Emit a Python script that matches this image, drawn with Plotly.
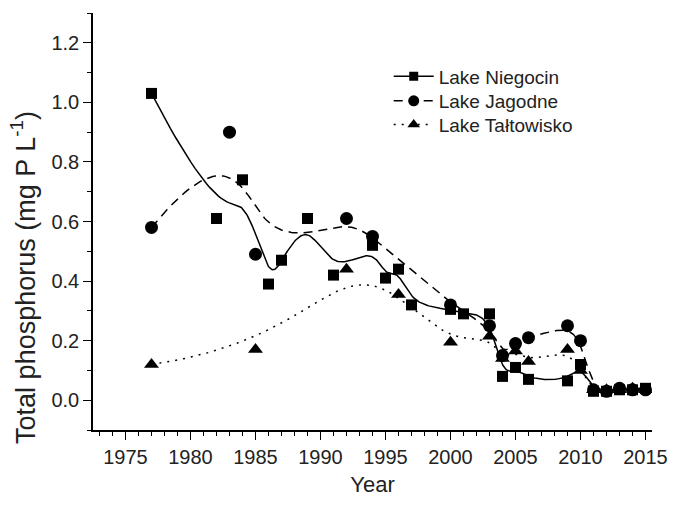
import numpy as np
import plotly.graph_objects as go

# ---- data ----
nieg_years = [1977, 1982, 1984, 1986, 1987, 1989, 1991, 1994, 1995, 1996, 1997, 2000, 2001, 2003,
              2004, 2005, 2006, 2009, 2010, 2011, 2012, 2013, 2014, 2015]
nieg_tp = [1.03, 0.61, 0.74, 0.39, 0.47, 0.61, 0.42, 0.52, 0.41, 0.44, 0.32, 0.305, 0.29, 0.29,
           0.08, 0.11, 0.07, 0.065, 0.12, 0.03, 0.03, 0.035, 0.035, 0.04]

jag_years = [1977, 1983, 1985, 1992, 1994, 2000, 2003, 2004, 2005, 2006, 2009, 2010,
             2011, 2012, 2013, 2014, 2015]
jag_tp = [0.58, 0.90, 0.49, 0.61, 0.55, 0.32, 0.25, 0.15, 0.19, 0.21, 0.25, 0.20,
          0.035, 0.03, 0.04, 0.035, 0.035]

talt_years = [1977, 1985, 1992, 1996, 2000, 2003, 2004, 2005, 2006, 2009, 2010,
              2011, 2012, 2013, 2014, 2015]
talt_tp = [0.12, 0.17, 0.44, 0.355, 0.195, 0.215, 0.14, 0.165, 0.13, 0.17, 0.10,
           0.035, 0.035, 0.035, 0.04, 0.035]

series_names = ["Lake Niegocin", "Lake Jagodne", "Lake Tałtowisko"]
x_ticks = [1975, 1980, 1985, 1990, 1995, 2000, 2005, 2010, 2015]
y_title = "Total phosphorus (mg P L<sup>-1</sup>)"
x_title = "Year"


def bspline(xs, ys, n=600, k=3):
    """Clamped uniform B-spline using the data as control points (Origin 'B-Spline' connect)."""
    P = np.column_stack([xs, ys]).astype(float)
    m = len(P)
    knots = np.concatenate([np.zeros(k), np.arange(0, m - k + 1), np.full(k, m - k)]).astype(float)
    ts = np.linspace(0, m - k, n)
    out = []
    for t in ts:
        s = np.searchsorted(knots, t, side="right") - 1
        s = min(max(s, k), m - 1)
        d = [P[j + s - k].copy() for j in range(k + 1)]
        for r in range(1, k + 1):
            for j in range(k, r - 1, -1):
                den = knots[j + 1 + s - r] - knots[j + s - k]
                a = 0.0 if den == 0 else (t - knots[j + s - k]) / den
                d[j] = (1 - a) * d[j - 1] + a * d[j]
        out.append(d[k])
    out = np.array(out)
    return out[:, 0], out[:, 1]


FONT = "Liberation Sans, Arial, sans-serif"
fig = go.Figure()

specs = [
    (nieg_years, nieg_tp, "solid", "square", 11, "legend"),
    (jag_years, jag_tp, "9px,6px", "circle", 13, "legend2"),
    (talt_years, talt_tp, "2px,6px", "triangle-up", 13, "legend3"),
]

for (xs, ys, dash, sym, ms, lg), name in zip(specs, series_names):
    cx, cy = bspline(xs, ys)
    fig.add_trace(go.Scatter(x=cx, y=cy, mode="lines", showlegend=False,
                             line=dict(color="black", width=1.5, dash=dash), hoverinfo="skip"))
    fig.add_trace(go.Scatter(x=xs, y=ys, mode="markers", showlegend=False,
                             marker=dict(symbol=sym, size=ms, color="black")))
    fig.add_trace(go.Scatter(x=[None], y=[None], mode="lines+markers", name=name, legend=lg,
                             line=dict(color="black", width=1.5, dash=dash),
                             marker=dict(symbol=sym, size=ms - 2, color="black")))

leg_common = dict(x=0.529, xanchor="left", yanchor="middle", font=dict(size=19, family=FONT, color="#222"),
                  bgcolor="rgba(0,0,0,0)", itemwidth=40)
fig.update_layout(
    width=680, height=505,
    margin=dict(l=93, r=23, t=13, b=70),
    paper_bgcolor="white", plot_bgcolor="white",
    font=dict(family=FONT, size=20, color="#222"),
    legend=dict(y=0.848, **leg_common),
    legend2=dict(y=0.789, **leg_common),
    legend3=dict(y=0.732, **leg_common),
    showlegend=True,
)

fig.add_annotation(text=y_title, xref="paper", yref="paper", x=-0.125, y=0.365,
                   xanchor="center", yanchor="middle", textangle=-90, showarrow=False,
                   font=dict(size=27, family=FONT, color="#222"))

fig.update_xaxes(
    range=[1972.5, 2015.5], tickvals=x_ticks, ticks="outside", ticklen=8, tickwidth=1.3,
    tickcolor="black", showline=True, linecolor="black", linewidth=1.5, showgrid=False,
    zeroline=False, title=dict(text=x_title, font=dict(size=22), standoff=10),
    minor=dict(dtick=1, tick0=1975, ticks="outside", ticklen=4, tickwidth=1.2, tickcolor="black",
               showgrid=False),
)
fig.update_yaxes(
    range=[-0.1, 1.3], tick0=0, dtick=0.2, tickformat=".1f", ticks="outside", ticklen=8,
    tickwidth=1.3, tickcolor="black", showline=True, linecolor="black", linewidth=1.5,
    showgrid=False, zeroline=False,
    minor=dict(dtick=0.1, tick0=0, ticks="outside", ticklen=4, tickwidth=1.2, tickcolor="black",
               showgrid=False),
)

fig.write_html("out.html")
